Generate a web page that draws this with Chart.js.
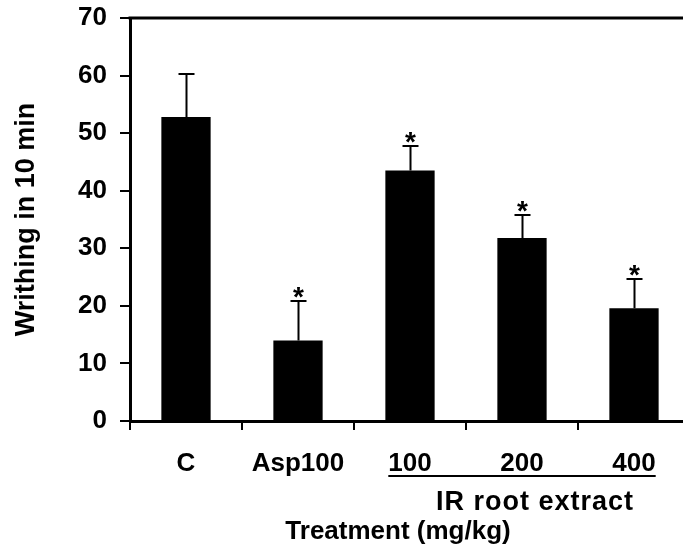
<!DOCTYPE html>
<html>
<head>
<meta charset="utf-8">
<script src="https://cdn.jsdelivr.net/npm/chart.js@4/dist/chart.umd.min.js"></script>
<style>
  html, body { margin: 0; padding: 0; background: #fff; overflow: hidden; }
  #wrap { width: 692px; height: 546px; }
</style>
</head>
<body>
<div id="wrap"><canvas id="myChart" width="692" height="546"></canvas></div>
<script>
// data
var categories = ['C', 'Asp100', '100', '200', '400'];
var writhing = [52.8, 14.0, 43.5, 31.8, 19.6];
var errUp = [7.5, 6.9, 4.2, 3.9, 5.0];
var signif = [false, true, true, true, true];
var yTicks = [0, 10, 20, 30, 40, 50, 60, 70];

var FONT = '"Liberation Sans", Arial, sans-serif';

var extras = {
  id: 'extras',
  afterDatasetsDraw: function (chart) {
    var ctx = chart.ctx;
    var x = chart.scales.x, y = chart.scales.y;
    var area = chart.chartArea;
    ctx.save();
    ctx.strokeStyle = '#000';
    ctx.fillStyle = '#000';

    // top frame line
    ctx.lineWidth = 3;
    ctx.beginPath();
    ctx.moveTo(area.left - 1.5, area.top);
    ctx.lineTo(area.right, area.top);
    ctx.stroke();

    // error bars (upper only) and asterisks
    ctx.lineWidth = 2;
    ctx.font = 'bold 28px ' + FONT;
    ctx.textAlign = 'center';
    ctx.textBaseline = 'alphabetic';
    for (var i = 0; i < writhing.length; i++) {
      var cx = Math.round(x.getPixelForValue(i)) + 0.5;
      var y0 = y.getPixelForValue(writhing[i]);
      var y1 = Math.round(y.getPixelForValue(writhing[i] + errUp[i]));
      ctx.beginPath();
      ctx.moveTo(cx, y0);
      ctx.lineTo(cx, y1);
      ctx.moveTo(cx - 8, y1);
      ctx.lineTo(cx + 8, y1);
      ctx.stroke();
      if (signif[i]) {
        var m = ctx.measureText('*');
        ctx.fillText('*', cx, y1 - 3 - m.actualBoundingBoxDescent);
      }
    }
    ctx.restore();
  },
  afterDraw: function (chart) {
    var ctx = chart.ctx;
    var x = chart.scales.x;
    ctx.save();
    ctx.fillStyle = '#000';
    ctx.strokeStyle = '#000';
    ctx.font = 'bold 26px ' + FONT;
    // underline under the extract doses
    var w1 = ctx.measureText(categories[2]).width;
    var w2 = ctx.measureText(categories[4]).width;
    var xa = x.getPixelForValue(2) - w1 / 2;
    var xb = x.getPixelForValue(4) + w2 / 2;
    ctx.lineWidth = 2;
    ctx.beginPath();
    ctx.moveTo(xa, 476);
    ctx.lineTo(xb, 476);
    ctx.stroke();
    ctx.textAlign = 'center';
    ctx.textBaseline = 'middle';
    ctx.fillText('Treatment (mg/kg)', 398, 532);
    ctx.font = 'bold 27px ' + FONT;
    ctx.letterSpacing = '1px';
    ctx.fillText('IR root extract', 535, 503);
    ctx.restore();
  }
};

var ctx = document.getElementById('myChart').getContext('2d');
var myChart = new Chart(ctx, {
  type: 'bar',
  data: {
    labels: categories,
    datasets: [{
      label: 'Writhing in 10 min',
      data: writhing,
      backgroundColor: '#000',
      borderWidth: 0,
      barPercentage: 0.44,
      categoryPercentage: 1.0
    }]
  },
  options: {
    responsive: false,
    animation: false,
    layout: { padding: { top: 18, right: 2, left: 0, bottom: 0 } },
    plugins: {
      legend: { display: false },
      tooltip: { enabled: false }
    },
    scales: {
      x: {
        grid: { offset: true, drawOnChartArea: false, tickLength: 9, lineWidth: 2, color: '#000' },
        border: { width: 3, color: '#000' },
        ticks: { color: '#000', font: { family: FONT, size: 26, weight: 'bold' }, padding: 18, maxRotation: 0 },
        afterFit: function (scale) {
          scale.height = 125;
          scale.paddingLeft = 0;
          scale.paddingRight = 0;
        }
      },
      y: {
        min: 0,
        max: 70,
        afterBuildTicks: function (scale) {
          scale.ticks = yTicks.map(function (v) { return { value: v }; });
        },
        grid: { drawOnChartArea: false, tickLength: 10, lineWidth: 2, color: '#000' },
        border: { width: 3, color: '#000' },
        ticks: { color: '#000', font: { family: FONT, size: 26, weight: 'bold' }, padding: 13 },
        title: {
          display: true,
          text: 'Writhing in 10 min',
          color: '#000',
          font: { family: FONT, size: 27, weight: 'bold' },
          padding: { top: 10, bottom: 0 }
        },
        afterFit: function (scale) {
          scale.width = 130;
          scale.paddingTop = 0;
          scale.paddingBottom = 0;
        }
      }
    }
  },
  plugins: [extras]
});
</script>
</body>
</html>
